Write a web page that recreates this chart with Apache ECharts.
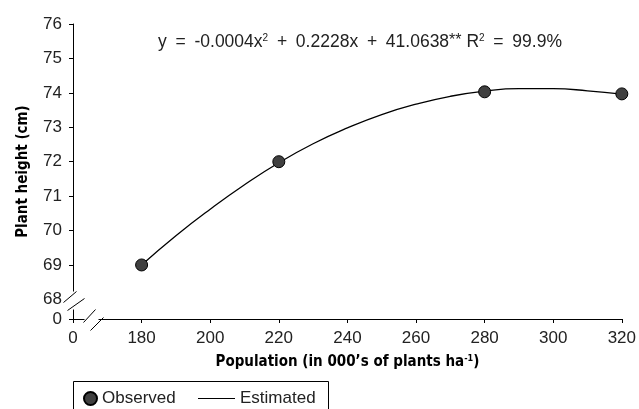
<!DOCTYPE html>
<html><head><meta charset="utf-8">
<script src="https://cdn.jsdelivr.net/npm/echarts@6/dist/echarts.min.js"></script>
<style>html,body{margin:0;padding:0;background:#fff}#c{width:639px;height:409px}</style>
</head><body><div id="c"></div>
<script>
// Data (x = population in 000's of plants/ha, y = plant height cm)
const xTickStart = 160;            // tick shown as "0" (broken axis)
const observedX = [180, 220, 280, 320];
const observedY = [69.0, 72.0, 74.03, 73.97];
const estimatedX = [180, 190, 200, 210, 220, 230, 240, 250, 260, 270, 280, 290, 300, 310, 320];
const estimatedY = [69.0, 69.85, 70.62, 71.33, 71.97, 72.52, 72.98, 73.37, 73.67, 73.9, 74.05, 74.12, 74.12, 74.06, 73.96];
const yBreakValue = 67.43;         // bottom of y axis, labelled "0"
const yLabelValues = [67.43, 68, 69, 70, 71, 72, 73, 74, 75, 76];
const yTickValues = [67.43, 69, 70, 71, 72, 73, 74, 75, 76];

const F = '"Liberation Sans",Arial,sans-serif';
const FB = '"DejaVu Sans Condensed","Liberation Sans",sans-serif';
const chart = echarts.init(document.getElementById('c'), null, {renderer: 'canvas'});

const option = {
  animation: false,
  backgroundColor: '#fff',
  grid: {left: 73, right: 16, top: 24, bottom: 90, containLabel: false},
  xAxis: {
    type: 'value', min: xTickStart, max: 320, interval: 20,
    name: '{b|Population (in 000\u2019s of plants ha}{s|-1}{b|)}',
    nameLocation: 'middle', nameGap: 35,
    nameTextStyle: {rich: {
      b: {fontFamily: FB, fontWeight: 'bold', fontSize: 15, color: '#000'},
      s: {fontFamily: FB, fontWeight: 'bold', fontSize: 9, color: '#000', verticalAlign: 'top', padding: [0, 0, 8, 0]}
    }},
    axisLine: {lineStyle: {color: '#000', width: 1}},
    axisTick: {length: 4, lineStyle: {color: '#000'}},
    axisLabel: {fontFamily: F, fontSize: 17, color: '#222', margin: 11,
      formatter: v => (v === xTickStart ? '0' : String(v))},
    splitLine: {show: false}
  },
  yAxis: {
    type: 'value', min: yBreakValue, max: 76,
    name: 'Plant height (cm)', nameLocation: 'middle', nameGap: 42,
    nameTextStyle: {fontFamily: FB, fontWeight: 'bold', fontSize: 15, color: '#000'},
    axisLine: {show: true, lineStyle: {color: '#000', width: 1}},
    axisTick: {show: true, length: 4, lineStyle: {color: '#000'}, customValues: yTickValues},
    axisLabel: {fontFamily: F, fontSize: 17, color: '#222', margin: 11, customValues: yLabelValues,
      formatter: v => (Math.abs(v - yBreakValue) < 0.01 ? '0' : String(Math.round(v)))},
    splitLine: {show: false}
  },
  legend: [
    {data: ['Observed'], left: 78, top: 385, itemWidth: 13, itemHeight: 13, icon: 'circle',
      textStyle: {fontFamily: F, fontSize: 17, color: '#222'}},
    {data: ['Estimated'], left: 193, top: 385, itemWidth: 37, itemHeight: 1, icon: 'rect',
      itemStyle: {color: '#000'},
      textStyle: {fontFamily: F, fontSize: 17, color: '#222'}}
  ],
  series: [
    {name: 'Estimated', type: 'line', smooth: true, showSymbol: false, symbol: 'none',
      data: estimatedX.map((x, i) => [x, estimatedY[i]]),
      lineStyle: {color: '#000', width: 1.3}, itemStyle: {color: '#000'}, z: 2},
    {name: 'Observed', type: 'scatter', symbol: 'circle', symbolSize: 12,
      data: observedX.map((x, i) => [x, observedY[i]]),
      itemStyle: {color: '#404040', borderColor: '#000', borderWidth: 1, opacity: 1}, z: 3}
  ]
};
chart.setOption(option);

// axis-break decorations, legend frame and equation
const o = chart.convertToPixel({gridIndex: 0}, [xTickStart, yBreakValue]);
const ax = Math.round(o[0]) + 0.5, ay = Math.round(o[1]) + 0.5;
const ln = (x1, y1, x2, y2) => ({type: 'line', z: 101, shape: {x1, y1, x2, y2}, style: {stroke: '#000', lineWidth: 1}});
const sp = '\u2002';
chart.setOption({
  graphic: [
    {type: 'rect', z: 100, shape: {x: ax - 3, y: ay - 28, width: 6, height: 18}, style: {fill: '#fff'}},
    {type: 'rect', z: 100, shape: {x: ax + 11, y: ay - 3, width: 14, height: 6}, style: {fill: '#fff'}},
    ln(ax - 10, ay - 17, ax + 3, ay - 28),
    ln(ax - 6, ay - 9, ax + 11, ay - 21),
    ln(ax + 10, ay + 3, ax + 22, ay - 10),
    ln(ax + 17, ay + 11, ax + 30, ay - 2),
    {type: 'rect', z: 100, shape: {x: 73.5, y: 381.5, width: 255, height: 40}, style: {fill: null, stroke: '#000', lineWidth: 1}},
    {type: 'text', z: 100, left: 158, top: 33,
      style: {
        text: '{t|y' + sp + '=' + sp + '-0.0004x}{s|2}{t|' + sp + '+' + sp + '0.2228x' + sp + '+' + sp +
              '41.0638}{a|**}{t| R}{s|2}{t|' + sp + '=' + sp + '99.9%}',
        rich: {
          t: {fontFamily: F, fontSize: 17.5, fill: '#222'},
          a: {fontFamily: F, fontSize: 16, fill: '#222', verticalAlign: 'top', padding: [0, 0, 3, 0]},
          s: {fontFamily: F, fontSize: 10, fill: '#222', verticalAlign: 'top', padding: [0, 0, 8, 0]}
        }
      }}
  ]
});
</script></body></html>
